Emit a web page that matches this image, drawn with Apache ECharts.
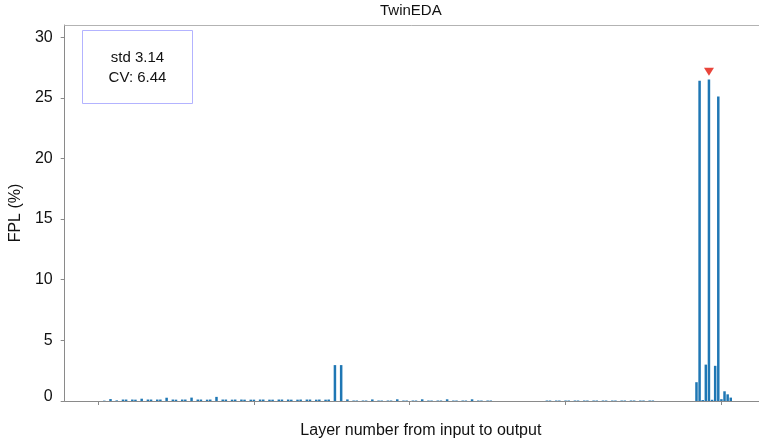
<!DOCTYPE html>
<html>
<head>
<meta charset="utf-8">
<script src="https://cdn.jsdelivr.net/npm/echarts@6/dist/echarts.min.js"></script>
<style>
  html, body { margin: 0; padding: 0; background: #fff; }
  #chart { width: 759px; height: 444px; }
</style>
</head>
<body>
<div id="chart"></div>
<script>
// FPL (%) per layer, ordered from input (index 0) to output
const fplValues = [
  0, 0, 0.03, 0, 0.16, 0, 0.05, 0,
  0.12, 0.12, 0, 0.12, 0.11, 0, 0.19, 0,
  0.12, 0.12, 0, 0.12, 0.12, 0, 0.27, 0,
  0.12, 0.11, 0, 0.12, 0.12, 0, 0.28, 0,
  0.12, 0.12, 0, 0.11, 0.12, 0, 0.34, 0,
  0.12, 0.12, 0, 0.11, 0.12, 0, 0.12, 0.11,
  0, 0.11, 0.11, 0, 0.12, 0.12, 0, 0.11,
  0.11, 0, 0.12, 0.12, 0, 0.12, 0.11, 0,
  0.11, 0.12, 0, 0.12, 0.12, 0, 0.11, 0.12,
  0, 0.11, 0.12, 0, 2.96, 0, 2.96, 0,
  0.13, 0, 0.04, 0.04, 0, 0.04, 0.04, 0,
  0.13, 0, 0.04, 0.04, 0, 0.04, 0.04, 0,
  0.14, 0, 0.04, 0.04, 0, 0.04, 0.04, 0,
  0.14, 0, 0.04, 0.04, 0, 0.04, 0.04, 0,
  0.14, 0, 0.04, 0.04, 0, 0.04, 0.04, 0,
  0.14, 0, 0.04, 0.04, 0, 0.04, 0.04, 0,
  0, 0, 0, 0, 0, 0, 0, 0,
  0, 0, 0, 0, 0, 0, 0, 0,
  0.04, 0.04, 0, 0.04, 0.04, 0, 0.04, 0.04,
  0, 0.04, 0.04, 0, 0.04, 0.04, 0, 0.04,
  0.04, 0, 0.04, 0.04, 0, 0.04, 0.04, 0,
  0.04, 0.04, 0, 0.04, 0.04, 0, 0.04, 0.04,
  0, 0.04, 0.04, 0, 0, 0, 0, 0,
  0, 0, 0, 0, 0, 0, 0, 0,
  1.55, 26.4, 0.08, 3.0, 26.5, 0.1, 2.9, 25.1,
  0.15, 0.8, 0.55, 0.28
];

// Marker flagging the layer with the highest FPL
const peakLayer = 196;
const peakMarkerY = 27.15;

const xTicks = [0, 50, 100, 150, 200];
const yTicks = [0, 5, 10, 15, 20, 25, 30];
const statsLines = ['std 3.14', 'CV: 6.44'];

const chartTitle = 'TwinEDA';
const xName = 'Layer number from input to output';
const yName = 'FPL (%)';

const FONT = "'Liberation Sans', Arial, Helvetica, sans-serif";
const AXIS_GRAY = '#8a8a8a';
const X_MIN = -10.7;
const X_MAX = 212.06;

const chart = echarts.init(document.getElementById('chart'), null, { renderer: 'canvas' });

const option = {
  animation: false,
  title: {
    text: chartTitle,
    left: 380,
    top: 3,
    padding: 0,
    textStyle: { fontFamily: FONT, fontSize: 15, fontWeight: 'normal', color: '#111' }
  },
  grid: { left: 64, right: 0, top: 25, bottom: 40.5, show: false },
  xAxis: [
    {
      type: 'value',
      min: X_MIN,
      max: X_MAX,
      name: xName,
      nameLocation: 'middle',
      nameGap: 22,
      nameTextStyle: { fontFamily: FONT, fontSize: 16, color: '#111', padding: [0, 0, 0, 18] },
      axisLine: { show: true, onZero: false, lineStyle: { color: AXIS_GRAY, width: 1 } },
      axisTick: { show: true, customValues: xTicks, length: 4, lineStyle: { color: AXIS_GRAY } },
      axisLabel: { show: false },
      splitLine: { show: false }
    },
    {
      // top frame line
      type: 'value',
      position: 'top',
      min: X_MIN,
      max: X_MAX,
      axisLine: { show: true, onZero: false, lineStyle: { color: '#b3b3b3', width: 1 } },
      axisTick: { show: false },
      axisLabel: { show: false },
      splitLine: { show: false }
    }
  ],
  yAxis: {
    type: 'value',
    min: 0,
    max: 31,
    name: yName,
    nameLocation: 'middle',
    nameGap: 40,
    nameTextStyle: { fontFamily: FONT, fontSize: 16, color: '#111' },
    axisLine: { show: true, onZero: false, lineStyle: { color: AXIS_GRAY, width: 1 } },
    axisTick: { show: true, customValues: yTicks, length: 4, lineStyle: { color: AXIS_GRAY } },
    axisLabel: {
      customValues: yTicks,
      fontFamily: FONT,
      fontSize: 16,
      color: '#111',
      margin: 12,
      formatter: v => (v === 0 ? '{z|0}' : String(v)),
      rich: { z: { fontFamily: FONT, fontSize: 16, color: '#111', padding: [0, 0, 9, 0] } }
    },
    splitLine: { show: false }
  },
  series: [
    {
      type: 'bar',
      data: fplValues.map((v, i) => [i, v]),
      barWidth: 2.5,
      itemStyle: { color: '#1f77b4' },
      silent: true
    },
    {
      type: 'scatter',
      data: [[peakLayer, peakMarkerY]],
      symbol: 'triangle',
      symbolRotate: 180,
      symbolSize: [10, 8],
      itemStyle: { color: '#e3170a' },
      silent: true,
      z: 5
    }
  ],
  graphic: [
    {
      type: 'rect',
      z: 10,
      shape: { x: 82.5, y: 30.5, width: 110, height: 73 },
      style: { fill: '#fff', stroke: '#b3b3ff', lineWidth: 1 }
    },
    {
      type: 'text',
      z: 11,
      x: 137.5, y: 58,
      style: { text: statsLines[0], align: 'center', verticalAlign: 'middle', fontFamily: FONT, fontSize: 15, fill: '#111' }
    },
    {
      type: 'text',
      z: 11,
      x: 137.5, y: 78,
      style: { text: statsLines[1], align: 'center', verticalAlign: 'middle', fontFamily: FONT, fontSize: 15, fill: '#111' }
    }
  ]
};

chart.setOption(option);
</script>
</body>
</html>
